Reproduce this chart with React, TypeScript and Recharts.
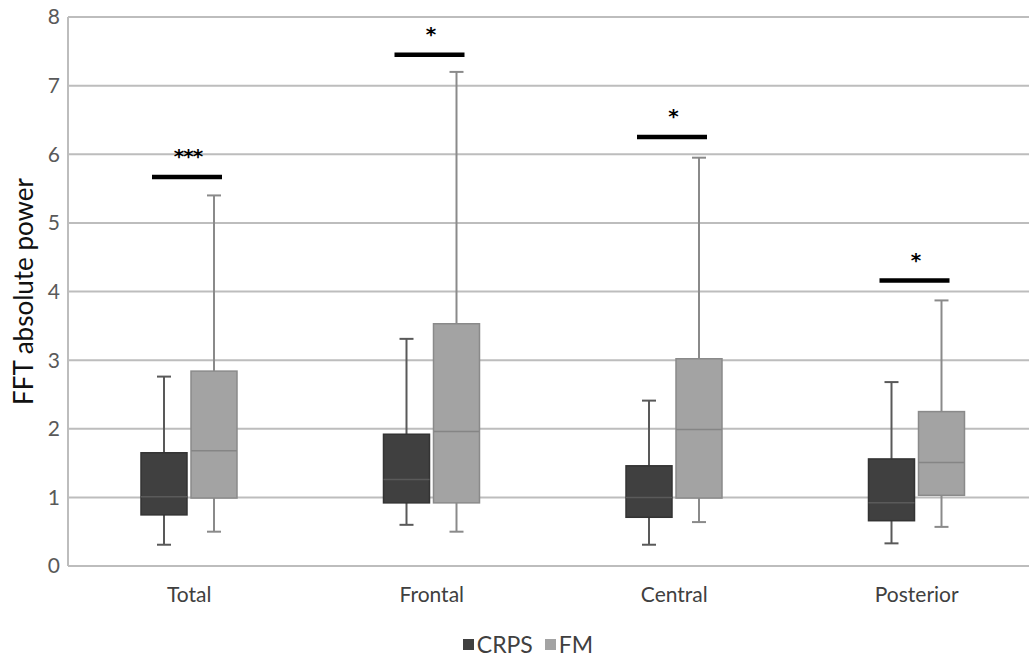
import React from 'react';
import { BarChart, Bar, XAxis, YAxis, CartesianGrid, Legend } from 'recharts';

// values (FFT absolute power)
const categories = ['Total', 'Frontal', 'Central', 'Posterior'];

const crpsMin = [0.31, 0.6, 0.31, 0.33];
const crpsQ1 = [0.745, 0.92, 0.71, 0.66];
const crpsMedian = [1.01, 1.26, 1.0, 0.92];
const crpsQ3 = [1.65, 1.92, 1.46, 1.56];
const crpsMax = [2.76, 3.31, 2.41, 2.68];

const fmMin = [0.5, 0.5, 0.64, 0.57];
const fmQ1 = [0.99, 0.92, 0.99, 1.03];
const fmMedian = [1.68, 1.96, 1.99, 1.51];
const fmQ3 = [2.84, 3.53, 3.02, 2.25];
const fmMax = [5.4, 7.2, 5.95, 3.87];

const sigLevel = [5.67, 7.45, 6.25, 4.16];
const sigLabel = ['***', '*', '*', '*'];

const yTicks = [0, 1, 2, 3, 4, 5, 6, 7, 8];

const rows = categories.map((name, i) => ({
  name,
  crps: [crpsMin[i], crpsMax[i]],
  crpsQ1: crpsQ1[i],
  crpsMedian: crpsMedian[i],
  crpsQ3: crpsQ3[i],
  fm: [fmMin[i], fmMax[i]],
  fmQ1: fmQ1[i],
  fmMedian: fmMedian[i],
  fmQ3: fmQ3[i],
  sig: sigLevel[i],
  sigLabel: sigLabel[i],
}));

const FONT = 'Lato, "Open Sans", sans-serif';
const BAR_SIZE = 46;
const BAR_GAP = 4;

const STYLE = {
  crps: { fill: '#404040', stroke: '#333333', median: '#5a5a5a', whisker: '#595959' },
  fm: { fill: '#a3a3a3', stroke: '#8a8a8a', median: '#858585', whisker: '#8a8a8a' },
};

function makeBox(key: 'crps' | 'fm', withSig: boolean) {
  const st = STYLE[key];
  return (props: any) => {
    const { x, y, width, height, payload } = props;
    const [lo, hi] = payload[key];
    const bottom = y + height;
    // linear map inside the bar's own pixel range (same linear y scale)
    const py = (v: number) => bottom - ((v - lo) / (hi - lo)) * height;
    const cx = x + width / 2;
    const q1 = py(payload[key + 'Q1']);
    const q3 = py(payload[key + 'Q3']);
    const med = py(payload[key + 'Median']);
    const cap = 7;
    const sigY = py(payload.sig);
    const sigCx = x + width + BAR_GAP / 2 - 2;
    return (
      <g>
        <line x1={cx} x2={cx} y1={y} y2={q3} stroke={st.whisker} strokeWidth={2} />
        <line x1={cx} x2={cx} y1={q1} y2={bottom} stroke={st.whisker} strokeWidth={2} />
        <line x1={cx - cap} x2={cx + cap} y1={y} y2={y} stroke={st.whisker} strokeWidth={2} />
        <line x1={cx - cap} x2={cx + cap} y1={bottom} y2={bottom} stroke={st.whisker} strokeWidth={2} />
        <rect x={x} y={q3} width={width} height={q1 - q3} fill={st.fill} stroke={st.stroke} strokeWidth={1.5} />
        <line x1={x} x2={x + width} y1={med} y2={med} stroke={st.median} strokeWidth={1.5} />
        {withSig && (
          <g>
            <line x1={sigCx - 35} x2={sigCx + 35} y1={sigY} y2={sigY} stroke="#000" strokeWidth={4.5} />
            <text
              x={sigCx + 1}
              y={sigY - 14}
              textAnchor="middle"
              fontSize={20}
              fontWeight="bold"
              fontFamily='"DejaVu Sans", sans-serif'
              letterSpacing={-1}
              fill="#000"
            >
              {payload.sigLabel}
            </text>
          </g>
        )}
      </g>
    );
  };
}

function YTitle(props: any) {
  const vb = props.viewBox || { x: 0, y: 17, width: 68, height: 549 };
  const cx = 33;
  const cy = vb.y + vb.height / 2;
  return (
    <text
      x={cx}
      y={cy}
      transform={`rotate(-90, ${cx}, ${cy})`}
      textAnchor="middle"
      fontSize={26}
      fontFamily={FONT}
      fill="#111"
    >
      FFT absolute power
    </text>
  );
}

function LegendBox() {
  const item = (label: string, color: string, gapAfter: number) => (
    <div style={{ display: 'flex', alignItems: 'center', marginRight: gapAfter }}>
      <div style={{ width: 11, height: 11, background: color, marginRight: 3 }} />
      <div>{label}</div>
    </div>
  );
  return (
    <div
      style={{
        height: 40,
        boxSizing: 'border-box',
        paddingTop: 9,
        paddingLeft: 18,
        display: 'flex',
        justifyContent: 'center',
        alignItems: 'flex-start',
        fontFamily: FONT,
        fontSize: 23,
        lineHeight: '26px',
        color: '#404040',
      }}
    >
      {item('CRPS', STYLE.crps.fill, 12)}
      {item('FM', STYLE.fm.fill, 0)}
    </div>
  );
}

export default function App() {
  return (
    <div style={{ position: 'absolute', left: 0, top: 0, width: 1029, height: 662, overflow: 'hidden', background: '#fff' }}>
      <BarChart
        width={1040}
        height={662}
        data={rows}
        margin={{ top: 17, right: 2, bottom: 0, left: 0 }}
        barGap={BAR_GAP}
        barSize={BAR_SIZE}
      >
        <CartesianGrid vertical={false} stroke="#bdbdbd" strokeWidth={2} />
        <XAxis
          dataKey="name"
          interval={0}
          height={56}
          axisLine={false}
          tickLine={false}
          tickMargin={15}
          tick={{ fill: '#404040', fontSize: 21, fontFamily: FONT }}
        />
        <YAxis
          domain={[0, 8]}
          ticks={yTicks}
          width={68}
          axisLine={{ stroke: '#bdbdbd', strokeWidth: 2 }}
          tickLine={false}
          tick={{ fill: '#595959', fontSize: 21, fontFamily: FONT }}
          label={{ content: (p: any) => <YTitle {...p} /> }}
        />
        <Legend verticalAlign="bottom" content={() => <LegendBox />} />
        <Bar dataKey="crps" name="CRPS" fill={STYLE.crps.fill} shape={makeBox('crps', true)} isAnimationActive={false} />
        <Bar dataKey="fm" name="FM" fill={STYLE.fm.fill} shape={makeBox('fm', false)} isAnimationActive={false} />
      </BarChart>
    </div>
  );
}
